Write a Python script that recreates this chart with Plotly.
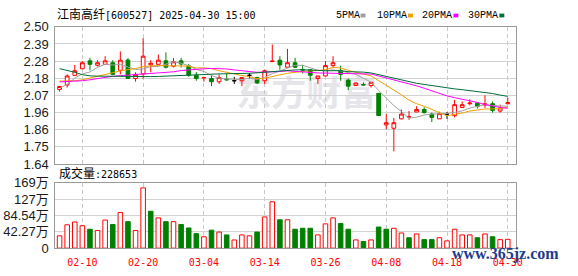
import plotly.graph_objects as go

# ---------------- data ----------------
dates = ["02-05","02-06","02-07","02-10","02-11","02-12","02-13","02-14","02-17","02-18",
         "02-19","02-20","02-21","02-24","02-25","02-26","02-27","02-28","03-03","03-04",
         "03-05","03-06","03-07","03-10","03-11","03-12","03-13","03-14","03-17","03-18",
         "03-19","03-20","03-21","03-24","03-25","03-26","03-27","03-28","03-31","04-01",
         "04-02","04-03","04-07","04-08","04-09","04-10","04-11","04-14","04-15","04-16",
         "04-17","04-18","04-21","04-22","04-23","04-24","04-25","04-28","04-29","04-30"]

opens = [2.107,2.136,2.196,2.237,2.287,2.259,2.265,2.275,2.227,2.292,
         2.176,2.205,2.262,2.265,2.287,2.253,2.287,2.255,2.196,2.180,
         2.176,2.156,2.172,2.162,2.162,2.196,2.182,2.162,2.282,2.291,
         2.247,2.275,2.233,2.231,2.176,2.192,2.257,2.227,2.166,2.132,
         2.138,2.132,2.083,1.885,1.864,1.923,1.934,1.966,1.982,1.953,
         1.923,1.953,1.943,1.994,2.018,2.021,2.010,2.018,1.972,2.018]
highs = [2.130,2.202,2.261,2.285,2.306,2.291,2.316,2.291,2.346,2.304,
         2.215,2.429,2.291,2.326,2.340,2.304,2.306,2.267,2.217,2.184,
         2.196,2.202,2.208,2.186,2.184,2.211,2.187,2.231,2.389,2.316,
         2.362,2.306,2.261,2.233,2.192,2.285,2.316,2.257,2.176,2.150,
         2.152,2.152,2.083,1.953,1.929,1.982,1.972,2.002,1.996,1.962,
         1.968,1.966,2.042,2.032,2.045,2.025,2.071,2.032,2.012,2.055]
lows = [2.094,2.119,2.192,2.235,2.227,2.251,2.261,2.200,2.202,2.176,
        2.156,2.176,2.215,2.265,2.240,2.245,2.245,2.187,2.162,2.156,
        2.128,2.142,2.162,2.142,2.128,2.176,2.142,2.142,2.280,2.231,
        2.247,2.241,2.208,2.162,2.142,2.190,2.241,2.162,2.103,2.130,
        2.134,2.119,1.944,1.858,1.719,1.920,1.917,1.966,1.956,1.903,
        1.923,1.923,1.932,1.994,2.008,1.988,1.992,1.962,1.962,2.018]
closes = [2.126,2.192,2.225,2.275,2.265,2.275,2.287,2.202,2.291,2.176,
          2.202,2.316,2.272,2.291,2.247,2.281,2.267,2.196,2.176,2.182,
          2.156,2.182,2.168,2.162,2.182,2.196,2.148,2.225,2.285,2.261,
          2.275,2.247,2.229,2.196,2.192,2.257,2.275,2.202,2.128,2.148,
          2.136,2.152,1.944,1.899,1.899,1.953,1.938,1.982,1.962,1.932,
          1.956,1.953,2.012,2.012,2.022,2.002,2.016,1.976,1.992,2.025]

ma5 = [2.113,2.140,2.178,2.205,2.217,2.246,2.265,2.261,2.264,2.246,
       2.232,2.237,2.251,2.251,2.266,2.281,2.272,2.256,2.233,2.220,
       2.195,2.178,2.173,2.170,2.170,2.178,2.171,2.183,2.207,2.223,
       2.239,2.259,2.259,2.242,2.228,2.224,2.230,2.224,2.211,2.202,
       2.178,2.153,2.102,2.056,2.006,1.969,1.927,1.934,1.947,1.953,
       1.954,1.957,1.963,1.973,1.991,2.000,2.013,2.006,2.002,2.002]
ma10 = [2.160,2.160,2.162,2.168,2.178,2.190,2.202,2.212,2.224,2.231,
        2.239,2.251,2.256,2.258,2.256,2.257,2.255,2.254,2.242,2.243,
        2.238,2.225,2.215,2.202,2.195,2.187,2.175,2.178,2.189,2.197,
        2.209,2.215,2.221,2.225,2.226,2.232,2.245,2.242,2.227,2.215,
        2.201,2.192,2.163,2.134,2.104,2.074,2.040,2.018,2.002,1.980,
        1.962,1.942,1.949,1.960,1.972,1.977,1.985,1.985,1.988,1.997]
ma20 = [2.155,2.156,2.158,2.162,2.168,2.176,2.184,2.190,2.194,2.197,
        2.199,2.203,2.206,2.209,2.213,2.218,2.226,2.231,2.234,2.237,
        2.239,2.238,2.236,2.230,2.226,2.222,2.215,2.216,2.216,2.220,
        2.224,2.220,2.218,2.214,2.211,2.210,2.210,2.210,2.208,2.206,
        2.205,2.204,2.192,2.180,2.165,2.153,2.143,2.130,2.115,2.098,
        2.082,2.067,2.056,2.047,2.038,2.026,2.013,2.002,1.995,1.989]
ma30 = [2.238,2.228,2.215,2.200,2.193,2.191,2.190,2.190,2.189,2.189,
        2.188,2.188,2.188,2.189,2.191,2.196,2.199,2.201,2.202,2.203,
        2.204,2.205,2.206,2.206,2.207,2.209,2.212,2.216,2.220,2.224,
        2.229,2.230,2.231,2.228,2.226,2.225,2.225,2.225,2.219,2.218,
        2.216,2.211,2.200,2.187,2.175,2.164,2.153,2.146,2.139,2.131,
        2.124,2.116,2.111,2.106,2.101,2.094,2.090,2.082,2.072,2.064]

# volume in units of 万
volumes = [31.9,60.5,67.8,58.1,49.0,45.8,72.8,61.3,92.4,68.6,
           45.8,156.1,95.6,78.4,68.6,68.6,61.3,52.3,37.6,29.4,
           46.6,41.7,34.3,21.2,34.3,31.9,41.7,80.9,120.1,73.5,
           73.5,49.0,51.5,51.5,34.3,62.9,78.4,63.7,49.0,21.3,
           17.2,21.3,54.7,49.0,51.5,39.2,27.0,36.8,22.1,22.1,
           27.0,18.9,49.0,34.3,34.3,27.0,36.8,29.4,22.1,22.87]
vol_dir = list("rrrrgrrgrg" "rrgrgrgggr" "grgrrrgrrg" "rgggrrrggr" "grggrrgrgg" "rrrrrgrgrr")

price_ticks = [1.64,1.7475,1.855,1.9625,2.07,2.1775,2.285,2.3925,2.50]
price_labels = ["1.64","1.75","1.86","1.96","2.07","2.18","2.28","2.39","2.50"]
vol_ticks = [0,42.27,84.54,126.81,169.08]
vol_labels = ["0","42.27万","84.54万","127万","169万"]
x_tick_dates = ["02-10","02-20","03-04","03-14","03-26","04-08","04-18","04-30"]

ma_names = ["5PMA","10PMA","20PMA","30PMA"]
ma_colors = ["#a0a0a0","#f0a000","#ff00ff","#006e3a"]

title_name = "江南高纤"
title_rest = "[600527] 2025-04-30 15:00"
vol_title = "成交量"
vol_last = "228653"
watermark = "东方财富"
site_mark = "www.365jz.com"

RED = "#ff0000"
GREEN = "#008000"

# ---------------- figure ----------------
W, H = 578, 276
fig = go.Figure()

def sel(cond):
    idx = [i for i in range(len(dates)) if cond(i)]
    return ([dates[i] for i in idx], [opens[i] for i in idx], [highs[i] for i in idx],
            [lows[i] for i in idx], [closes[i] for i in idx])

groups = [
    (lambda i: closes[i] > opens[i], RED, "white"),
    (lambda i: closes[i] < opens[i], GREEN, GREEN),
    (lambda i: closes[i] == opens[i], "#000000", "#000000"),
]
for cond, lc, fc in groups:
    x, o, h, l, c = sel(cond)
    style = dict(line=dict(color=lc, width=1), fillcolor=fc)
    fig.add_trace(go.Candlestick(x=x, open=o, high=h, low=l, close=c,
                                 increasing=style, decreasing=style,
                                 whiskerwidth=0, showlegend=False,
                                 xaxis="x", yaxis="y", hoverinfo="skip"))

for name, vals, col in zip(ma_names, [ma5, ma10, ma20, ma30], ma_colors):
    fig.add_trace(go.Scatter(x=dates, y=vals, mode="lines", name=name,
                             line=dict(color=col, width=1), showlegend=False,
                             xaxis="x", yaxis="y", hoverinfo="skip"))

for d, lc, fc in [("r", RED, "white"), ("g", GREEN, GREEN)]:
    idx = [i for i in range(len(dates)) if vol_dir[i] == d]
    fig.add_trace(go.Bar(x=[dates[i] for i in idx], y=[volumes[i] for i in idx],
                         marker=dict(color=fc, line=dict(color=lc, width=1)),
                         width=0.6, showlegend=False, xaxis="x2", yaxis="y2",
                         hoverinfo="skip"))

xdom = [56 / W, 522 / W]
y1dom = [1 - 166 / H, 1 - 21 / H]
y2dom = [1 - 255 / H, 1 - 186 / H]
xrange = [-0.56, 60.04]

common_x = dict(type="category", categoryorder="array", categoryarray=dates,
                range=xrange, domain=xdom, tickmode="array", tickvals=x_tick_dates,
                ticktext=x_tick_dates, showgrid=True, gridcolor="#c8c8c8",
                griddash="4px,3px", gridwidth=1, showline=True, mirror=True,
                linecolor="#9a9a9a", linewidth=1, zeroline=False, ticks="",
                rangeslider=dict(visible=False), fixedrange=True)
common_y = dict(showgrid=True, gridcolor="#d2d2d2", gridwidth=1, showline=True,
                mirror=True, linecolor="#9a9a9a", linewidth=1, zeroline=False,
                ticks="", tickmode="array",
                tickfont=dict(family="Liberation Sans, Noto Sans CJK SC", size=13, color="#1a1a1a"),
                ticklabelstandoff=3, fixedrange=True)

fig.update_layout(
    width=W, height=H, margin=dict(l=0, r=0, t=0, b=0),
    paper_bgcolor="white", plot_bgcolor="white", showlegend=False,
    xaxis=dict(**common_x, anchor="y", showticklabels=False),
    xaxis2=dict(**common_x, anchor="y2", showticklabels=True,
                tickfont=dict(family="DejaVu Sans Mono", size=10, color=RED)),
    yaxis=dict(**common_y, domain=y1dom, range=[1.64, 2.50],
               tickvals=price_ticks, ticktext=price_labels),
    yaxis2=dict(**common_y, domain=y2dom, range=[0, 169.08],
                tickvals=vol_ticks, ticktext=vol_labels),
)
fig.update_xaxes(selector=dict(anchor="y2"), ticklabelstandoff=5)

annotations = []
annotations.append(dict(xref="paper", yref="paper", x=56 / W, y=1 - 8 / H,
                        xanchor="left", yanchor="middle", showarrow=False,
                        text='<span style="font-size:12px">' + title_name + '</span>' + title_rest,
                        font=dict(family="DejaVu Sans Mono, Noto Sans CJK SC", size=10, color="#000")))
annotations.append(dict(xref="paper", yref="paper", x=57.5 / W, y=1 - 176.5 / H,
                        xanchor="left", yanchor="middle", showarrow=False,
                        text='<span style="font-size:12px">' + vol_title + '</span>:' + vol_last,
                        font=dict(family="DejaVu Sans Mono, Noto Sans CJK SC", size=10, color="#000")))

legend_text_x = [338, 380, 425, 471.5]
legend_sq_x = [365, 413, 459, 505.5]
shapes = []
for name, col, tx, sx in zip(ma_names, ma_colors, legend_text_x, legend_sq_x):
    annotations.append(dict(xref="paper", yref="paper", x=tx / W, y=1 - 9 / H,
                            xanchor="left", yanchor="middle", showarrow=False,
                            text=name, font=dict(family="Liberation Mono", size=10, color="#000")))
    shapes.append(dict(type="rect", xref="paper", yref="paper",
                       x0=sx / W, x1=(sx + 5) / W, y0=1 - 11 / H, y1=1 - 7 / H,
                       line=dict(width=0), fillcolor=col))

# faint watermark beneath the data
shapes.append(dict(type="rect", xref="paper", yref="paper", layer="below",
                   x0=238 / W, x1=382 / W, y0=1 - 113 / H, y1=1 - 77 / H,
                   line=dict(width=0), fillcolor="rgba(0,0,0,0)",
                   label=dict(text=watermark, textposition="middle center",
                              font=dict(family="Noto Sans CJK SC", size=35, color="#e6e6ea",
                                        weight="bold"))))

annotations.append(dict(xref="paper", yref="paper", x=512 / W, y=1 - 261 / H,
                        xanchor="center", yanchor="middle", showarrow=False,
                        text=site_mark,
                        font=dict(family="Liberation Serif", size=16, color="#1e3c8c", weight="bold")))

fig.update_layout(annotations=annotations, shapes=shapes)
fig.write_html("out.html")
